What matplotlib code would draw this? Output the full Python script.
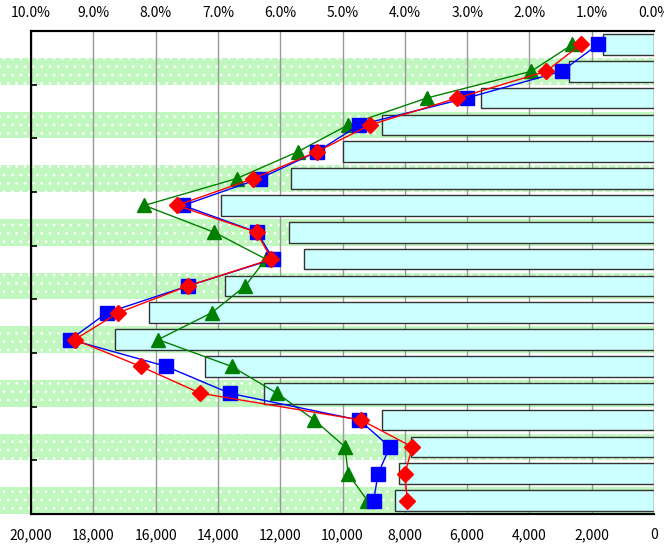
import numpy as np
import matplotlib.pyplot as plt
from matplotlib.patches import Rectangle
import matplotlib.transforms as mtransforms

plt.rcParams['font.family'] = ['Noto Sans CJK JP', 'DejaVu Sans']
plt.rcParams['hatch.color'] = 'white'
plt.rcParams['hatch.linewidth'] = 0.8

# bars (bottom axis, 0-20,000), top row first
bar_values = [1650, 2740, 5550, 8720, 9980, 11640, 13890, 11720, 11230,
              13780, 16210, 17300, 14420, 12530, 8730, 7810, 8190, 8300]

# line series (top axis, %)
blue_pct = [0.90, 1.48, 3.01, 4.73, 5.41, 6.33, 7.56, 6.37, 6.11,
            7.48, 8.78, 9.37, 7.83, 6.81, 4.73, 4.24, 4.43, 4.50]
red_pct = [1.175, 1.73, 3.16, 4.56, 5.41, 6.43, 7.66, 6.38, 6.14,
           7.48, 8.60, 9.30, 8.24, 7.28, 4.70, 3.88, 4.00, 3.96]
green_pct = [1.31, 1.97, 3.65, 4.91, 5.72, 6.70, 8.18, 7.06, 6.23,
             6.56, 7.10, 7.96, 6.78, 6.05, 5.45, 4.96, 4.91, 4.60]

bottom_ticks = np.arange(0, 20001, 2000)
top_ticks = np.arange(0, 10.01, 1.0)

n = len(bar_values)
rows = np.arange(n)

fig = plt.figure(figsize=(6.64, 5.47), dpi=100)
ax = fig.add_axes([0.0467, 0.0603, 0.9383, 0.883])

# striped background rows, running out to the left edge of the figure
trans = mtransforms.blended_transform_factory(fig.transFigure, ax.transData)
for r in rows[1::2]:
    ax.add_patch(Rectangle((0, r - 0.5), 0.985, 1.0, transform=trans,
                           facecolor='#bff7bf', edgecolor='white', hatch='..',
                           linewidth=0, clip_on=False, zorder=0))

ax.barh(rows, bar_values, height=0.77, color='#ccffff', edgecolor='#333333',
        linewidth=1.0, zorder=2)

ax.set_xlim(20000, 0)
ax.set_ylim(n - 0.5, -0.5)
ax.set_xticks(bottom_ticks)
ax.set_xticklabels([f'{v:,}' for v in bottom_ticks], fontsize=10)
ax.grid(axis='x', color='#999999', linewidth=1.0, zorder=1)
ax.set_axisbelow(True)
ax.set_yticks(np.arange(1.5, n - 1, 2))
ax.set_yticklabels([])
ax.tick_params(axis='y', direction='in', length=4, width=1.2, left=True)
ax.tick_params(axis='x', length=0, pad=10)
ax.patch.set_alpha(0)

for s in ['left', 'bottom', 'top']:
    ax.spines[s].set_linewidth(1.5)
ax.spines['right'].set_visible(False)

ax2 = ax.twiny()
ax2.set_xlim(10, 0)
ax2.set_xticks(top_ticks)
ax2.set_xticklabels([f'{v:.1f}%' for v in top_ticks], fontsize=10)
ax2.tick_params(axis='x', length=0, pad=8)
ax2.spines['right'].set_visible(False)
ax2.spines['top'].set_linewidth(1.5)

ax2.plot(green_pct, rows, color='#008000', marker='^', markersize=10,
         linewidth=1.0, zorder=3)
ax2.plot(blue_pct, rows, color='#0000ff', marker='s', markersize=10,
         linewidth=1.0, zorder=4)
ax2.plot(red_pct, rows, color='#ff0000', marker='D', markersize=8,
         linewidth=1.0, zorder=5)

fig.savefig('out.png', dpi=100)
